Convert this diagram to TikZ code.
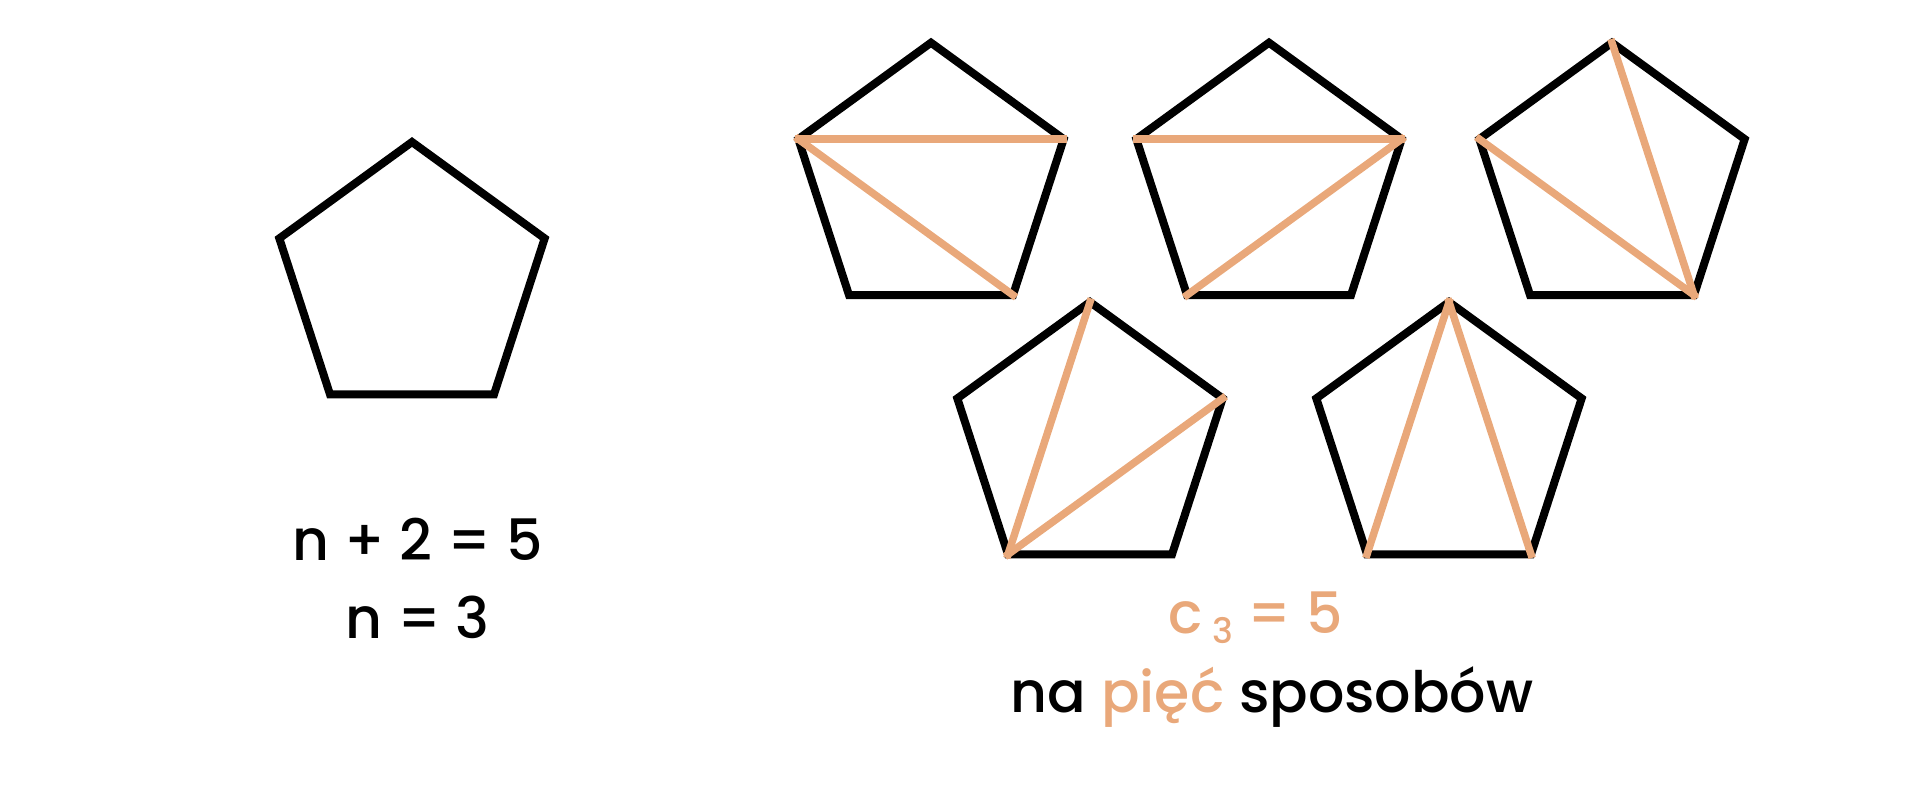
\documentclass[tikz,border=0pt]{standalone}
\usepackage{fontspec}
\setmainfont{Poppins}[UprightFont=* Medium]
\usetikzlibrary{calc}
\definecolor{peach}{RGB}{233,168,122}
\tikzset{
  pent/.style={draw=black,line width=8pt,line join=miter},
  diag/.style={draw=peach,line width=7.5pt,line cap=rect},
  bigtxt/.style={anchor=base,inner sep=0pt,font=\fontsize{57}{60}\selectfont}
}
\begin{document}
\begin{tikzpicture}[x=1pt,y=1pt]
\useasboundingbox (0,0) rectangle (1920,-788);
\foreach \i/\cx/\cy in {L/412/281.5, A/931/182.2, B/1269/182.2, C/1612/182.2, D/1090/441.5, E/1449/441.5}{
  \foreach \k in {0,...,4}{
    \coordinate (\i-\k) at ($(\cx,-\cy)+({90+72*\k}:139.5)$);
  }
  \draw[pent] (\i-0) -- (\i-1) -- (\i-2) -- (\i-3) -- (\i-4) -- cycle;
}
% diagonals
\draw[diag] (A-1) -- (A-4);
\draw[diag] (A-1) -- (A-3);
\draw[diag] (B-1) -- (B-4);
\draw[diag] (B-4) -- (B-2);
\draw[diag] (C-0) -- (C-3);
\draw[diag] (C-1) -- (C-3);
\draw[diag] (D-0) -- (D-2);
\draw[diag] (D-4) -- (D-2);
\draw[diag] (E-0) -- (E-2);
\draw[diag] (E-0) -- (E-3);
% texts
\node[bigtxt] (eq1) at (417.5,-560) {n + 2 = 5};
\node[bigtxt] (eq2) at (417.5,-638) {n = 3};
\node[bigtxt,text=peach] (c3) at (1256,-633) {c\,\raisebox{-10pt}{\fontsize{35}{35}\selectfont 3} = 5};
\node[bigtxt] (ways) at (1272,-712) {na \textcolor{peach}{pięć} sposobów};
\end{tikzpicture}
\end{document}
